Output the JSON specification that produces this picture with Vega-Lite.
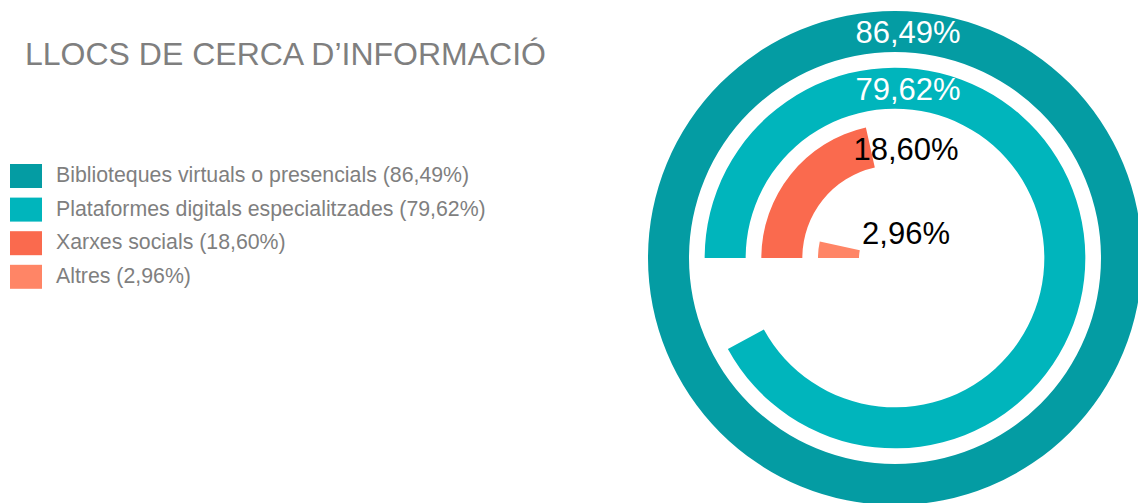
{
  "$schema": "https://vega.github.io/schema/vega-lite/v6.json",
  "autosize": "none",
  "width": 486,
  "height": 490,
  "padding": {"left": 652, "top": 13, "right": 0, "bottom": 0},
  "background": "white",
  "config": {"view": {"stroke": null}, "font": "Liberation Sans"},
  "title": {
    "text": "LLOCS DE CERCA D’INFORMACIÓ",
    "anchor": "start",
    "frame": "group",
    "orient": "top",
    "offset": 0,
    "dx": -627,
    "dy": 86,
    "baseline": "alphabetic",
    "font": "Liberation Sans",
    "fontSize": 32,
    "fontWeight": "normal",
    "color": "#7f7f7f"
  },
  "data": {
    "values": [
      {"cat": "Biblioteques virtuals o presencials (86,49%)", "value": 86.49, "label": "86,49%"},
      {"cat": "Plataformes digitals especialitzades (79,62%)", "value": 79.62, "label": "79,62%"},
      {"cat": "Xarxes socials (18,60%)", "value": 18.60, "label": "18,60%"},
      {"cat": "Altres (2,96%)", "value": 2.96, "label": "2,96%"}
    ]
  },
  "layer": [
    {
      "mark": {"type": "arc", "radius2Offset": -41},
      "encoding": {
        "theta": {"field": "value", "type": "quantitative", "stack": null,
          "scale": {"domain": [0, 86.49], "range": [-1.5707963, 4.712389], "nice": false, "zero": false}},
        "theta2": {"datum": 0},
        "radius": {"field": "cat", "type": "nominal", "sort": null,
          "scale": {"type": "point", "domain": ["Biblioteques virtuals o presencials (86,49%)", "Plataformes digitals especialitzades (79,62%)", "Xarxes socials (18,60%)", "Altres (2,96%)"], "range": [247, 77], "padding": 0}},
        "radius2": {"field": "cat"},
        "color": {"field": "cat", "type": "nominal", "sort": null,
          "scale": {"domain": ["Biblioteques virtuals o presencials (86,49%)", "Plataformes digitals especialitzades (79,62%)", "Xarxes socials (18,60%)", "Altres (2,96%)"],
            "range": ["#049ca3", "#00b5bc", "#fa6a4e", "#ff8566"]},
          "legend": {
            "title": null,
            "orient": "none",
            "legendX": -642,
            "legendY": 147,
            "symbolType": "M-1,-0.75H1V0.75H-1Z",
            "symbolSize": 1024,
            "symbolStrokeWidth": 0,
            "symbolOpacity": 1,
            "labelFont": "Liberation Sans",
            "labelFontSize": 21.3,
            "labelColor": "#7f7f7f",
            "labelOffset": 14,
            "labelLimit": 700,
            "rowPadding": 5.6,
            "padding": 0
          }
        }
      }
    },
    {
      "transform": [{"filter": "datum.value > 50"}],
      "mark": {"type": "text", "font": "Liberation Sans", "fontSize": 31, "dx": 13, "baseline": "middle", "align": "center", "color": "#ffffff"},
      "encoding": {
        "theta": {"datum": 21.6225},
        "radius": {"field": "cat", "type": "nominal",
          "scale": {"type": "point", "domain": ["Biblioteques virtuals o presencials (86,49%)", "Plataformes digitals especialitzades (79,62%)"], "range": [224, 167], "padding": 0}},
        "text": {"field": "label"}
      }
    },
    {
      "transform": [{"filter": "datum.value < 50"}],
      "mark": {"type": "text", "font": "Liberation Sans", "fontSize": 31, "dx": 11, "baseline": "middle", "align": "center", "color": "#000000"},
      "encoding": {
        "theta": {"datum": 21.6225},
        "radius": {"field": "cat", "type": "nominal",
          "scale": {"type": "point", "domain": ["Xarxes socials (18,60%)", "Altres (2,96%)"], "range": [107, 23], "padding": 0}},
        "text": {"field": "label"}
      }
    }
  ],
  "resolve": {"scale": {"radius": "independent"}}
}
